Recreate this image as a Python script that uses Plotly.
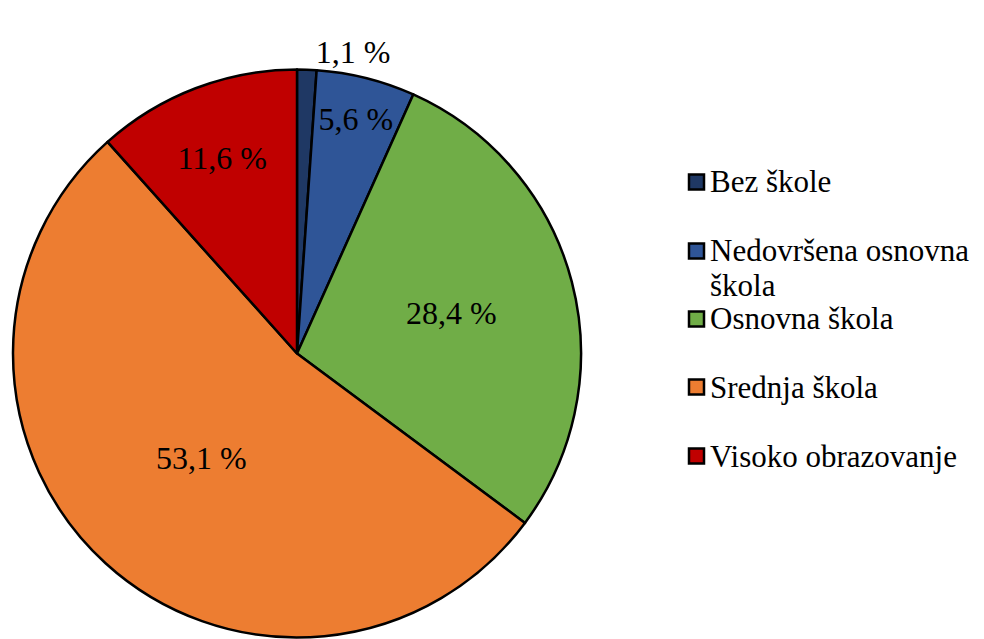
import plotly.graph_objects as go

# Data
categories = ["Bez škole", "Nedovršena osnovna škola", "Osnovna škola", "Srednja škola", "Visoko obrazovanje"]
legend_lines = [["Bez škole"], ["Nedovršena osnovna", "škola"], ["Osnovna škola"], ["Srednja škola"], ["Visoko obrazovanje"]]
values = [1.1, 5.6, 28.4, 53.1, 11.6]
value_labels = ["1,1 %", "5,6 %", "28,4 %", "53,1 %", "11,6 %"]
colors = ["#1F3864", "#2F5597", "#70AD47", "#ED7D31", "#C00000"]

W, H = 984, 639
OFF = 8  # default page body margin, shifts the whole figure on screen
serif = "Liberation Serif, Times New Roman, serif"
label_font = dict(family=serif, size=32, color="black")
legend_font = dict(family=serif, size=31, color="black")


def px(x):
    return (x - OFF) / W


def py(y):
    return 1 - (y - OFF) / H


pie = go.Pie(
    labels=categories,
    values=values,
    text=value_labels,
    textinfo="text",
    textposition=["outside", "inside", "inside", "inside", "inside"],
    insidetextorientation="horizontal",
    textfont=label_font,
    sort=False,
    direction="clockwise",
    rotation=0,
    marker=dict(colors=colors, line=dict(color="black", width=2.5)),
    domain=dict(x=[px(13), px(581)], y=[py(637.5), py(69.5)]),
    showlegend=False,
    hoverinfo="label+value",
)

fig = go.Figure(data=[pie])

# hand-built legend (uneven spacing like the original)
legend_y = [182, 251, 319, 387, 456]
line_gap = 34
shapes = []
annotations = []
for lines, col, yc in zip(legend_lines, colors, legend_y):
    shapes.append(dict(type="rect", xref="paper", yref="paper",
                       x0=px(689), x1=px(704), y0=py(yc + 7.5), y1=py(yc - 7.5),
                       fillcolor=col, line=dict(color="black", width=2.5)))
    for k, line in enumerate(lines):
        annotations.append(dict(x=px(709), y=py(yc + k * line_gap), xref="paper", yref="paper",
                                text=line, showarrow=False, xanchor="left", yanchor="middle",
                                align="left", font=legend_font, borderpad=0))

fig.update_layout(
    width=W, height=H,
    margin=dict(l=0, r=0, t=0, b=0),
    paper_bgcolor="white",
    plot_bgcolor="white",
    shapes=shapes,
    annotations=annotations,
)

fig.write_html("out.html")
